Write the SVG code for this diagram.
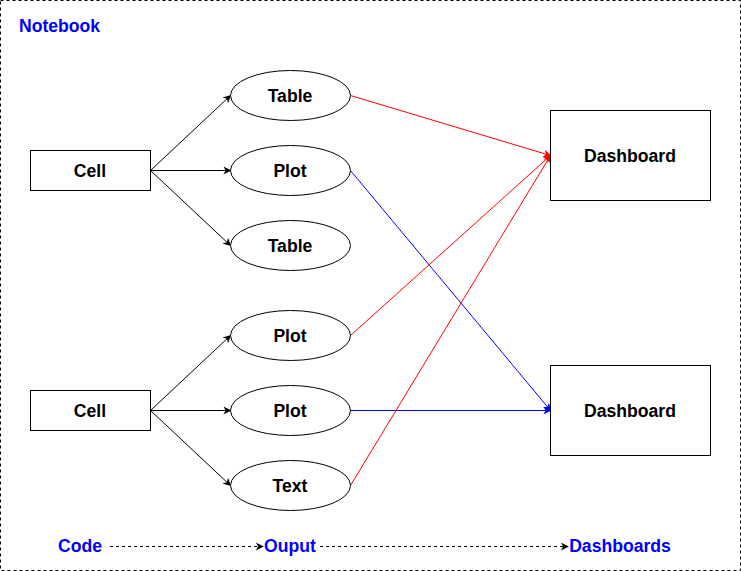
<svg xmlns="http://www.w3.org/2000/svg" width="741" height="571" viewBox="0 0 741 571">
<defs>
<style>
.t{font-family:"Liberation Sans",Arial,sans-serif;font-weight:bold;font-size:17.6px;text-anchor:middle;dominant-baseline:central;fill:#000}
.b{fill:#0000ff}
.n{fill:#fff;stroke:#000;stroke-width:1}
.e{fill:none;stroke-width:1}
</style>
<marker id="ak" viewBox="0 0 10 10" refX="9" refY="5" markerWidth="8" markerHeight="8" orient="auto" markerUnits="userSpaceOnUse"><path d="M0,0 L10,5 L0,10 L3,5 Z" fill="#000"/></marker>
<marker id="ar" viewBox="0 0 10 10" refX="9" refY="5" markerWidth="8" markerHeight="8" orient="auto" markerUnits="userSpaceOnUse"><path d="M0,0 L10,5 L0,10 L3,5 Z" fill="#ff0000"/></marker>
<marker id="ab" viewBox="0 0 10 10" refX="9" refY="5" markerWidth="8" markerHeight="8" orient="auto" markerUnits="userSpaceOnUse"><path d="M0,0 L10,5 L0,10 L3,5 Z" fill="#0000ff"/></marker>
</defs>
<rect width="741" height="571" fill="#fff"/>
<g id="notebook">
<rect x="0.5" y="0.5" width="740" height="570" fill="none" stroke="#000" stroke-dasharray="3,3"/>
<text class="t b" x="19" y="26" style="text-anchor:start">Notebook</text>
</g>
<g id="connectors">
<line class="e" stroke="#000" x1="150.5" y1="170.5" x2="230.5" y2="95.5" marker-end="url(#ak)"/>
<line class="e" stroke="#000" x1="150.5" y1="170.5" x2="230.5" y2="170.5" marker-end="url(#ak)"/>
<line class="e" stroke="#000" x1="150.5" y1="170.5" x2="230.5" y2="245.5" marker-end="url(#ak)"/>
<line class="e" stroke="#000" x1="150.5" y1="410.5" x2="230.5" y2="335.5" marker-end="url(#ak)"/>
<line class="e" stroke="#000" x1="150.5" y1="410.5" x2="230.5" y2="410.5" marker-end="url(#ak)"/>
<line class="e" stroke="#000" x1="150.5" y1="410.5" x2="230.5" y2="485.5" marker-end="url(#ak)"/>
<line class="e" stroke="#ff0000" x1="350.5" y1="95.5" x2="550.5" y2="155.5" marker-end="url(#ar)"/>
<line class="e" stroke="#0000ff" x1="350.5" y1="170.5" x2="550.5" y2="410.5" marker-end="url(#ab)"/>
<line class="e" stroke="#ff0000" x1="350.5" y1="335.5" x2="550.5" y2="155.5" marker-end="url(#ar)"/>
<line class="e" stroke="#0000ff" x1="350.5" y1="410.5" x2="550.5" y2="410.5" marker-end="url(#ab)"/>
<line class="e" stroke="#ff0000" x1="350.5" y1="485.5" x2="550.5" y2="155.5" marker-end="url(#ar)"/>
<line class="e" stroke="#000" stroke-dasharray="3,3" x1="110" y1="546.5" x2="263" y2="546.5" marker-end="url(#ak)"/>
<line class="e" stroke="#000" stroke-dasharray="3,3" x1="320" y1="546.5" x2="568" y2="546.5" marker-end="url(#ak)"/>
</g>
<g id="cell1"><rect class="n" x="30.5" y="150.5" width="120" height="40"/><text class="t" x="90" y="171">Cell</text></g>
<g id="cell2"><rect class="n" x="30.5" y="390.5" width="120" height="40"/><text class="t" x="90" y="411">Cell</text></g>
<g id="out1"><ellipse class="n" cx="290.5" cy="95.5" rx="60" ry="25"/><text class="t" x="290" y="96">Table</text></g>
<g id="out2"><ellipse class="n" cx="290.5" cy="170.5" rx="60" ry="25"/><text class="t" x="290" y="171">Plot</text></g>
<g id="out3"><ellipse class="n" cx="290.5" cy="245.5" rx="60" ry="25"/><text class="t" x="290" y="246">Table</text></g>
<g id="out4"><ellipse class="n" cx="290.5" cy="335.5" rx="60" ry="25"/><text class="t" x="290" y="336">Plot</text></g>
<g id="out5"><ellipse class="n" cx="290.5" cy="410.5" rx="60" ry="25"/><text class="t" x="290" y="411">Plot</text></g>
<g id="out6"><ellipse class="n" cx="290.5" cy="485.5" rx="60" ry="25"/><text class="t" x="290" y="486">Text</text></g>
<g id="dash1"><rect class="n" x="550.5" y="110.5" width="160" height="90"/><text class="t" x="630" y="156">Dashboard</text></g>
<g id="dash2"><rect class="n" x="550.5" y="365.5" width="160" height="90"/><text class="t" x="630" y="411">Dashboard</text></g>
<g id="legend">
<text class="t b" x="80" y="546">Code</text>
<text class="t b" x="290" y="546">Ouput</text>
<text class="t b" x="620" y="546">Dashboards</text>
</g>
</svg>
